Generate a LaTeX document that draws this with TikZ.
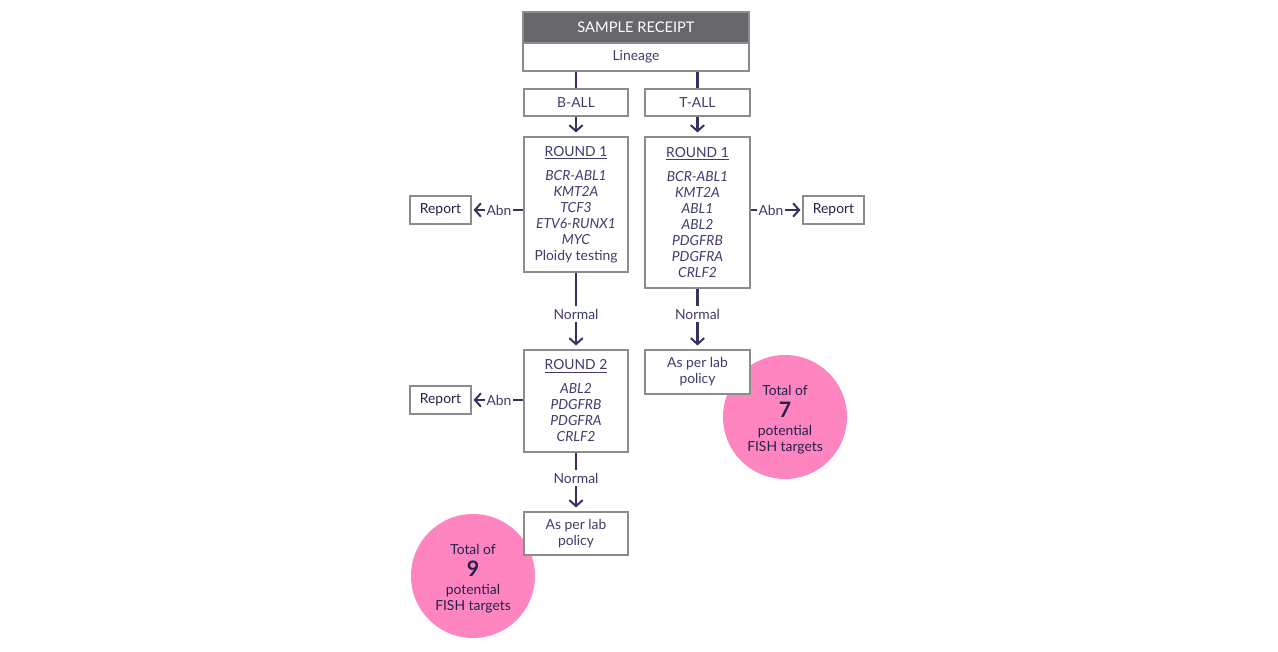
\documentclass[tikz,border=0pt]{standalone}
\usepackage{fontspec}
\setmainfont{Lato}
\usetikzlibrary{arrows.meta,calc}
\definecolor{hdr}{HTML}{67676B}
\definecolor{txt}{HTML}{3C3C6E}
\definecolor{dtxt}{HTML}{22224A}
\definecolor{ln}{HTML}{33335E}
\definecolor{brd}{HTML}{8C8C8C}
\definecolor{pk}{HTML}{FF85C1}
\begin{document}
\begin{tikzpicture}[x=0.75pt,y=-0.75pt,
  font=\fontsize{10.4}{12}\selectfont, text=txt,
  box/.style={draw=brd, line width=0.8pt, fill=white, inner sep=0pt, align=center},
  conn/.style={draw=ln, line width=1.7pt},
  arr/.style={conn, -{Straight Barb[length=4.5pt,width=10pt,line width=1.5pt]}},
  lab/.style={inner sep=1pt, text=txt},
  tot/.style={circle, fill=pk, minimum size=93pt, inner sep=0pt},
  ctxt/.style={inner sep=0pt, align=center, text=dtxt}]
\useasboundingbox (0,0) rectangle (1278,652);
% circles
\node[tot] (c7) at (785,417) {};
\node[ctxt] (c7a) at (785,390) {Total of};
\node[ctxt, font=\fontsize{16}{16}\selectfont\bfseries] (c7b) at (785,410) {7};
\node[ctxt] (c7c) at (785,440) {potential\\FISH targets};
\node[tot] (c9) at (473,576) {};
\node[ctxt] (c9a) at (473,549) {Total of};
\node[ctxt, font=\fontsize{16}{16}\selectfont\bfseries] (c9b) at (473,569) {9};
\node[ctxt] (c9c) at (473,599) {potential\\FISH targets};
% header
\node[box, draw=brd, fill=hdr, text=white, font=\fontsize{11}{12}\selectfont, minimum width=169.5pt, minimum height=23.25pt] (hd) at (636,27.5) {SAMPLE RECEIPT};
\node[box, minimum width=169.5pt, minimum height=21pt] (lin) at (636,57) {Lineage};
% lineage boxes
\node[box, minimum width=78pt, minimum height=20.25pt] (ball) at (576,102.5) {B-ALL};
\node[box, minimum width=78.75pt, minimum height=20.25pt] (tall) at (697.5,102.5) {T-ALL};
% round 1
\node[box, minimum width=78pt, minimum height=101.25pt] (r1b) at (576,204.5)
 {\underline{ROUND 1}\\[6pt]\textit{BCR-ABL1}\\\textit{KMT2A}\\\textit{TCF3}\\\textit{ETV6-RUNX1}\\\textit{MYC}\\Ploidy testing};
\node[box, minimum width=78.75pt, minimum height=113.25pt] (r1t) at (697.5,212.5)
 {\underline{ROUND 1}\\[6pt]\textit{BCR-ABL1}\\\textit{KMT2A}\\\textit{ABL1}\\\textit{ABL2}\\\textit{PDGFRB}\\\textit{PDGFRA}\\\textit{CRLF2}};
% round 2 and policy
\node[box, minimum width=78pt, minimum height=76.5pt] (r2b) at (576,401)
 {\underline{ROUND 2}\\[6pt]\textit{ABL2}\\\textit{PDGFRB}\\\textit{PDGFRA}\\\textit{CRLF2}};
\node[box, minimum width=78.75pt, minimum height=33pt] (pt) at (697.5,372) {As per lab\\policy};
\node[box, minimum width=78pt, minimum height=32.25pt] (pb) at (576,533.5) {As per lab\\policy};
% reports
\node[box, text=dtxt, minimum width=45.75pt, minimum height=21pt] (rep1) at (440.5,210) {Report};
\node[box, text=dtxt, minimum width=45.75pt, minimum height=21pt] (rep2) at (833.5,210) {Report};
\node[box, text=dtxt, minimum width=45.75pt, minimum height=21pt] (rep3) at (440.5,400) {Report};
% labels
\node[lab] (abn1) at (499,210) {Abn};
\node[lab] (abn2) at (771,210) {Abn};
\node[lab] (abn3) at (499,400) {Abn};
\node[lab] (n1) at (576,314) {Normal};
\node[lab] (n2) at (697.5,314) {Normal};
\node[lab] (n3) at (576,478) {Normal};
% connectors
\draw[conn] (lin.south -| ball.north) -- (ball.north);
\draw[conn] (lin.south -| tall.north) -- (tall.north);
\draw[arr, shorten >=3pt] (ball.south) -- (r1b.north);
\draw[arr, shorten >=3pt] (tall.south) -- (r1t.north);
\draw[conn] (abn1.east -| r1b.west) -- (abn1.east);
\draw[arr, shorten >=1.5pt] (abn1.west) -- (rep1.east);
\draw[conn] (abn2.west -| r1t.east) -- (abn2.west);
\draw[arr, shorten >=1.5pt] (abn2.east) -- (rep2.west);
\draw[conn] (abn3.east -| r2b.west) -- (abn3.east);
\draw[arr, shorten >=1.5pt] (abn3.west) -- (rep3.east);
\draw[conn, shorten >=1pt] (r1b.south) -- (n1.north);
\draw[arr, shorten >=3pt, shorten <=1pt] (n1.south) -- (r2b.north);
\draw[conn, shorten >=1pt] (r1t.south) -- (n2.north);
\draw[arr, shorten >=3pt, shorten <=1pt] (n2.south) -- (pt.north);
\draw[conn, shorten >=1pt] (r2b.south) -- (n3.north);
\draw[arr, shorten >=3pt, shorten <=1pt] (n3.south) -- (pb.north);
\end{tikzpicture}
\end{document}
